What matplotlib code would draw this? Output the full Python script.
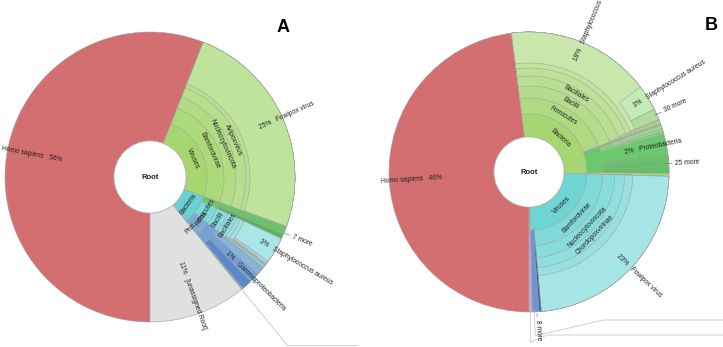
import numpy as np
import matplotlib
matplotlib.use("Agg")
import matplotlib.pyplot as plt
from matplotlib.patches import Wedge, Circle

plt.rcParams['font.family'] = ['Liberation Sans', 'DejaVu Sans']

# ---------------- data: percent of reads, laid out clockwise from 6 o'clock ----------------
# ids starting with "_" are unassigned remainders (not drawn)
# panel A
a_ids    = ["homo", "vir", "bam", "nuc", "avi", "avi2", "fowl",
            "bac", "act", "act1", "act2", "fir", "bcl", "bcs", "stc", "stg", "sau", "so1", "so2",
            "pro", "gam", "ga1", "_gap", "ga2", "una"]
a_parent = [None, None, "vir", "bam", "nuc", "avi", "avi2",
            None, "bac", "act", "act", "bac", "fir", "bcl", "bcs", "stc", "stg", "stg", "stg",
            "bac", "pro", "gam", "gam", "gam", None]
a_value  = [56.0, 24.6, 24.6, 24.6, 24.6, 24.6, 24.5,
            8.5, 1.4, 0.9, 0.5, 3.8, 3.8, 3.7, 3.5, 3.4, 2.9, 0.3, 0.2,
            3.3, 3.2, 0.9, 1.1, 1.1, 10.9]

# panel B
b_ids    = ["homo", "bac", "fir", "bcl", "bcs", "stc", "st6", "stg", "_gap", "sau", "m30",
            "ph1", "pro", "p1", "p2", "p3", "_gap2", "p4", "p5", "p6", "sl",
            "vir", "bam", "nuc", "cho", "v5", "fowl", "blu", "blu2", "pink"]
b_parent = [None, None, "bac", "fir", "bcl", "bcs", "stc", "st6", "stg", "stg", "stg",
            "bac", "bac", "pro", "p1", "p2", "pro", "pro", "pro", "pro", "bac",
            None, "vir", "bam", "nuc", "cho", "v5", "vir", "blu", None]
b_value  = [48.0, 27.5, 21.4, 21.4, 21.2, 21.0, 20.95, 20.9, 16.6, 3.0, 1.3,
            0.2, 5.55, 1.05, 0.7, 0.35, 2.3, 0.6, 0.9, 0.7, 0.35,
            24.2, 23.1, 23.1, 23.1, 23.1, 23.1, 1.0, 0.25, 0.3]

# ---------------- styles ----------------
a_colors = {"homo": "#d36f70", "vir": "#a6d670", "bam": "#acd97a", "nuc": "#b2dc84",
            "avi": "#b6de8c", "avi2": "#b9e092", "fowl": "#bee39b",
            "bac": "#68d2d2", "act": "#6bc66b", "act1": "#69c469", "act2": "#55b35f",
            "fir": "#7dd8d8", "bcl": "#88dbdb", "bcs": "#92dede", "stc": "#9ae0e0",
            "stg": "#a0e2e2", "sau": "#aae6e6", "so1": "#b6d6dc", "so2": "#96c2cc",
            "pro": "#7fa9d6", "gam": "#74a1d3", "ga1": "#8ab3da", "ga2": "#5b88c8",
            "una": "#e0e0e0"}
b_colors = {"homo": "#d36f70", "bac": "#a6d672", "fir": "#afda82", "bcl": "#b4dc8a",
            "bcs": "#b9df92", "stc": "#bee198", "st6": "#c2e39e", "stg": "#c9e7ac",
            "sau": "#c4eab8", "m30": "#b2da9e", "ph1": "#8fd08a", "pro": "#6cc86c",
            "p1": "#86cf80", "p2": "#94d48c", "p3": "#a2d99a", "p4": "#68c468",
            "p5": "#64c266", "p6": "#60c064", "sl": "#a8d67c",
            "vir": "#6ed4d4", "bam": "#80d9d9", "nuc": "#89dcdc", "cho": "#91dede",
            "v5": "#98e0e0", "fowl": "#a6e5e5", "blu": "#6b95d3", "blu2": "#3e5fa6",
            "pink": "#d6a3d8"}

EDGE = "#a2a2a2"
TXT = "#222222"
FS = 4.8


def layout(ids, parents, values):
    start, size, depth = {}, {}, {}
    nxt = {None: 0.0}
    for i, p, v in zip(ids, parents, values):
        s = nxt[p]
        nxt[p] = s + v
        start[i], size[i] = s, v
        depth[i] = 1 if p is None else depth[p] + 1
        nxt[i] = s
    return start, size, depth


def mid(g, i):
    start, size, _ = g
    return 270 - (start[i] + size[i] / 2) * 3.6


def sunburst(ax, c, R, rings, ids, parents, values, colors):
    g = layout(ids, parents, values)
    start, size, depth = g
    for i in ids:
        if i.startswith("_"):
            continue
        th1 = 270 - (start[i] + size[i]) * 3.6
        th2 = 270 - start[i] * 3.6
        r_in = rings[depth[i] - 1]
        ax.add_patch(Wedge(c, R, th1, th2, width=R - r_in, fc=colors[i],
                           ec=EDGE, lw=0.4))
    ax.add_patch(Circle(c, rings[0], fc="white", ec="#b8b8b8", lw=0.5, zorder=3))
    ax.text(c[0], c[1], "Root", ha="center", va="center", fontsize=5.5,
            fontweight="bold", color=TXT, zorder=4)
    return g


def pol(c, th, r):
    t = np.radians(th)
    return c[0] + r * np.cos(t), c[1] + r * np.sin(t)


def radial(ax, c, th, r, text):
    tn = ((th + 180) % 360) - 180
    x, y = pol(c, th, r)
    if -90 <= tn <= 90:
        rot, ha = tn, "left"
    else:
        rot, ha = tn + 180 if tn < 0 else tn - 180, "right"
    ax.text(x, y, text, rotation=rot, rotation_mode="anchor", ha=ha, va="center",
            fontsize=FS, color=TXT, zorder=5)


def tangential(ax, c, th, r, text):
    rot = (th % 180) - 90
    x, y = pol(c, th, r)
    ax.text(x, y, text, rotation=rot, rotation_mode="anchor", ha="center",
            va="center", fontsize=FS, color=TXT, zorder=5)


def more(ax, c, th, r0, r1, text):
    x0, y0 = pol(c, th, r0)
    x1, y1 = pol(c, th, r1)
    ax.plot([x0, x1], [y0, y1], color="#777777", lw=0.5, zorder=5)
    radial(ax, c, th, r1 + 3, text)


fig = plt.figure(figsize=(7.23, 3.47), dpi=100)
ax = fig.add_axes([0, 0, 1, 1])
ax.set_xlim(0, 723)
ax.set_ylim(0, 347)
ax.axis("off")

# ---------------- panel A ----------------
cA, RA = (150, 170), 145
ringsA = [36, 57, 74, 86, 96, 100, 104, 108]
gA = sunburst(ax, cA, RA, ringsA, a_ids, a_parent, a_value, a_colors)

# leader line from the edge of the blue slices
x0, y0 = pol(cA, mid(gA, "una") + 19.6, RA)
x1, y1 = pol(cA, mid(gA, "una") + 19.6, RA * 1.5)
ax.plot([x0, x1, x1 + 70], [y0, y1, y1], color="#c8c8c8", lw=0.6, zorder=1)

for i, t in [("vir", "Viruses"), ("bac", "Bacteria")]:
    tangential(ax, cA, mid(gA, i), 46.5, t)
for i, t in [("bam", "Bamfordvirae"), ("fir", "Firmicutes"), ("pro", "Prot...eria")]:
    tangential(ax, cA, mid(gA, i), 65.5, t)
for i, t in [("nuc", "Nucleocytoviricota"), ("bcl", "Bacilli")]:
    tangential(ax, cA, mid(gA, i), 80, t)
for i, t in [("avi", "Avipoxvirus"), ("bcs", "Bacillales")]:
    tangential(ax, cA, mid(gA, i), 91, t)

radial(ax, cA, mid(gA, "homo"), 90, "Homo sapiens   56%")
radial(ax, cA, mid(gA, "fowl"), 120, "25%   Fowlpox virus")
radial(ax, cA, mid(gA, "sau"), 127, "3%   Staphylococcus aureus")
radial(ax, cA, mid(gA, "gam"), 108, "1%   Gammaproteobacteria")
radial(ax, cA, mid(gA, "una"), 90, "11%   [unassigned Root]")
more(ax, cA, mid(gA, "act"), RA + 1, RA + 6, "7 more")

ax.text(283, 320, "A", fontsize=13, fontweight="bold", ha="center", va="center")

# ---------------- panel B ----------------
cB, RB = (529, 175), 140
ringsB = [35, 58, 74, 86, 96, 104, 109, 114]
gB = sunburst(ax, cB, RB, ringsB, b_ids, b_parent, b_value, b_colors)

# leader lines to the hidden slices
xa, ya = pol(cB, mid(gB, "pink"), RB)
ax.plot([xa, xa, xa + 17, 723], [ya, 5, 12, 12], color="#c8c8c8", lw=0.6, zorder=1)
xb, yb = pol(cB, mid(gB, "blu") - 1, RB + 20)
ax.plot([xb - 1, xb, xb + 68, 723], [ya, yb - 4, 27, 27], color="#c8c8c8", lw=0.6, zorder=1)

for i, t in [("bac", "Bacteria"), ("vir", "Viruses")]:
    tangential(ax, cB, mid(gB, i), 46.5, t)
for i, t in [("fir", "Firmicutes"), ("bam", "Bamfordvirae")]:
    tangential(ax, cB, mid(gB, i), 66, t)
for i, t in [("bcl", "Bacilli"), ("nuc", "Nucleocytoviricota")]:
    tangential(ax, cB, mid(gB, i), 80, t)
for i, t in [("bcs", "Bacillales"), ("cho", "Chordopoxvirinae")]:
    tangential(ax, cB, mid(gB, i), 91, t)

radial(ax, cB, mid(gB, "homo"), 87, "Homo sapiens   46%")
radial(ax, cB, mid(gB, "_gap"), 121, "18%   Staphylococcus")
radial(ax, cB, mid(gB, "sau"), 124, "3%   Staphylococcus aureus")
radial(ax, cB, mid(gB, "_gap2"), 98, "2%   Proteobacteria")
radial(ax, cB, mid(gB, "fowl"), 121, "23%   Fowlpox virus")
more(ax, cB, mid(gB, "m30"), RB - 2, RB + 5, "30 more")
more(ax, cB, (mid(gB, "p4") + mid(gB, "p6")) / 2, RB - 4, RB + 3, "25 more")
more(ax, cB, mid(gB, "blu"), RB + 2, RB + 5, "8 more")

ax.text(711, 322, "B", fontsize=13, fontweight="bold", ha="center", va="center")

fig.savefig("out.png", dpi=100)
